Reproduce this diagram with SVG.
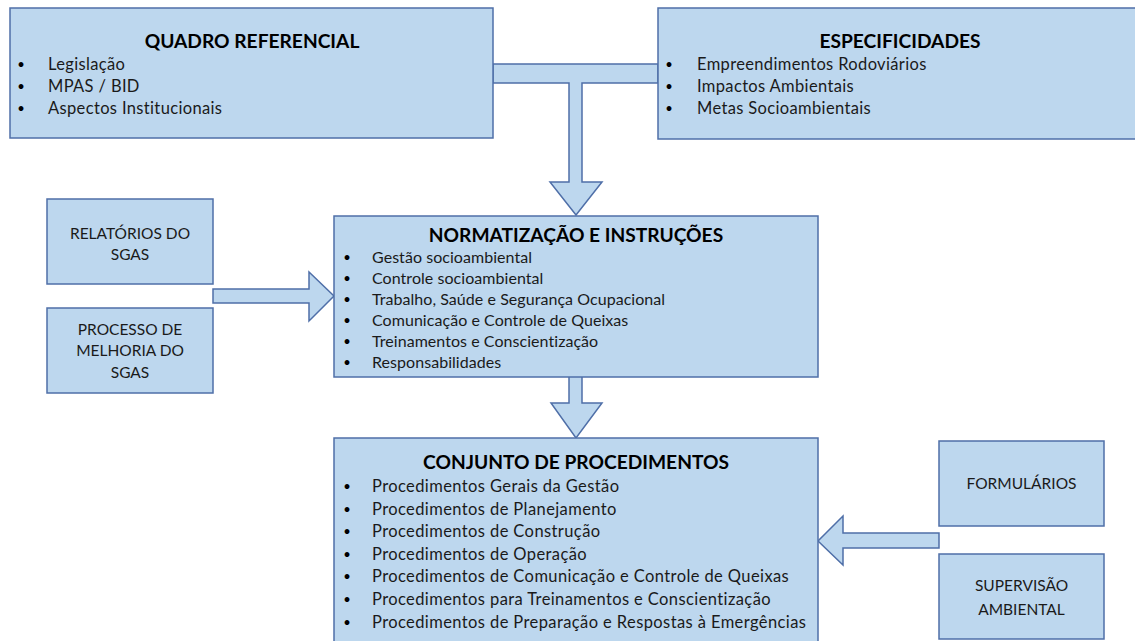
<svg xmlns="http://www.w3.org/2000/svg" width="1135" height="641" viewBox="0 0 1135 641">
  <style>
    .box { fill: #BDD7EE; stroke: #4F6FA8; stroke-width: 1.5; }
    .arrow { fill: #BDD7EE; stroke: #4F6FA8; stroke-width: 1.5; stroke-linejoin: miter; }
    text { font-family: Lato, "Liberation Sans", sans-serif; fill: #1a1a1a; }
    .title { font-size: 19.2px; font-weight: bold; fill: #000; text-anchor: middle; }
    .item { font-size: 16.5px; letter-spacing: 0.35px; }
    .item2 { font-size: 16px; letter-spacing: 0.05px; }
    .item3 { font-size: 16.5px; letter-spacing: 0.4px; }
    .bullet { font-size: 13px; fill: #000; text-anchor: middle; }
    .label { font-size: 15.5px; text-anchor: middle; }
  </style>
  <rect width="1135" height="641" fill="#ffffff"/>

  <g id="connectors">
    <path class="arrow" d="M493,64 H658 V83 H582 V182 H602 L576,215 L550,182 H569 V83 H493 Z"/>
    <path class="arrow" d="M569,377 V403 H551 L576,438 L602,403 H582 V377"/>
    <path class="arrow" d="M213,289 H309 V272 L334,296 L309,321 V303 H213 Z"/>
    <path class="arrow" d="M939,533 H843 V516 L818,541 L843,565 V548 H939 Z"/>
  </g>

  <g id="quadro-referencial">
    <rect class="box" x="10" y="8" width="483" height="130"/>
    <text class="title" x="252" y="48">QUADRO REFERENCIAL</text>
    <text class="bullet" x="21" y="69">•</text>
    <text class="item" x="48" y="70">Legislação</text>
    <text class="bullet" x="21" y="91">•</text>
    <text class="item" x="48" y="92">MPAS / BID</text>
    <text class="bullet" x="21" y="113">•</text>
    <text class="item" x="48" y="114">Aspectos Institucionais</text>
  </g>

  <g id="especificidades">
    <rect class="box" x="658" y="8" width="484" height="131"/>
    <text class="title" x="900" y="48">ESPECIFICIDADES</text>
    <text class="bullet" x="669" y="69">•</text>
    <text class="item" x="697" y="70">Empreendimentos Rodoviários</text>
    <text class="bullet" x="669" y="91">•</text>
    <text class="item" x="697" y="92">Impactos Ambientais</text>
    <text class="bullet" x="669" y="113">•</text>
    <text class="item" x="697" y="114">Metas Socioambientais</text>
  </g>

  <g id="relatorios-sgas">
    <rect class="box" x="47" y="199" width="166" height="85"/>
    <text class="label" x="130" y="239">RELATÓRIOS DO</text>
    <text class="label" x="130" y="260">SGAS</text>
  </g>

  <g id="processo-melhoria">
    <rect class="box" x="47" y="308" width="166" height="85"/>
    <text class="label" x="130" y="335">PROCESSO DE</text>
    <text class="label" x="130" y="356">MELHORIA DO</text>
    <text class="label" x="130" y="378">SGAS</text>
  </g>

  <g id="normatizacao">
    <rect class="box" x="334" y="216" width="484" height="161"/>
    <text class="title" x="576" y="242">NORMATIZAÇÃO E INSTRUÇÕES</text>
    <text class="bullet" x="347" y="262">•</text>
    <text class="item2" x="372" y="263">Gestão socioambiental</text>
    <text class="bullet" x="347" y="283">•</text>
    <text class="item2" x="372" y="284">Controle socioambiental</text>
    <text class="bullet" x="347" y="304">•</text>
    <text class="item2" x="372" y="305">Trabalho, Saúde e Segurança Ocupacional</text>
    <text class="bullet" x="347" y="325">•</text>
    <text class="item2" x="372" y="326">Comunicação e Controle de Queixas</text>
    <text class="bullet" x="347" y="346">•</text>
    <text class="item2" x="372" y="347">Treinamentos e Conscientização</text>
    <text class="bullet" x="347" y="367">•</text>
    <text class="item2" x="372" y="368">Responsabilidades</text>
  </g>

  <g id="conjunto-procedimentos">
    <rect class="box" x="334" y="438" width="484" height="210"/>
    <text class="title" x="576" y="469">CONJUNTO DE PROCEDIMENTOS</text>
    <text class="bullet" x="347" y="491">•</text>
    <text class="item3" x="372" y="492">Procedimentos Gerais da Gestão</text>
    <text class="bullet" x="347" y="514">•</text>
    <text class="item3" x="372" y="515">Procedimentos de Planejamento</text>
    <text class="bullet" x="347" y="536">•</text>
    <text class="item3" x="372" y="537">Procedimentos de Construção</text>
    <text class="bullet" x="347" y="559">•</text>
    <text class="item3" x="372" y="560">Procedimentos de Operação</text>
    <text class="bullet" x="347" y="581">•</text>
    <text class="item3" x="372" y="582">Procedimentos de Comunicação e Controle de Queixas</text>
    <text class="bullet" x="347" y="604">•</text>
    <text class="item3" x="372" y="605">Procedimentos para Treinamentos e Conscientização</text>
    <text class="bullet" x="347" y="627">•</text>
    <text class="item3" x="372" y="628">Procedimentos de Preparação e Respostas à Emergências</text>
  </g>

  <g id="formularios">
    <rect class="box" x="939" y="441" width="165" height="85"/>
    <text class="label" x="1021.5" y="489">FORMULÁRIOS</text>
  </g>

  <g id="supervisao-ambiental">
    <rect class="box" x="939" y="554" width="165" height="85"/>
    <text class="label" x="1021.5" y="591">SUPERVISÃO</text>
    <text class="label" x="1021.5" y="615">AMBIENTAL</text>
  </g>
</svg>
